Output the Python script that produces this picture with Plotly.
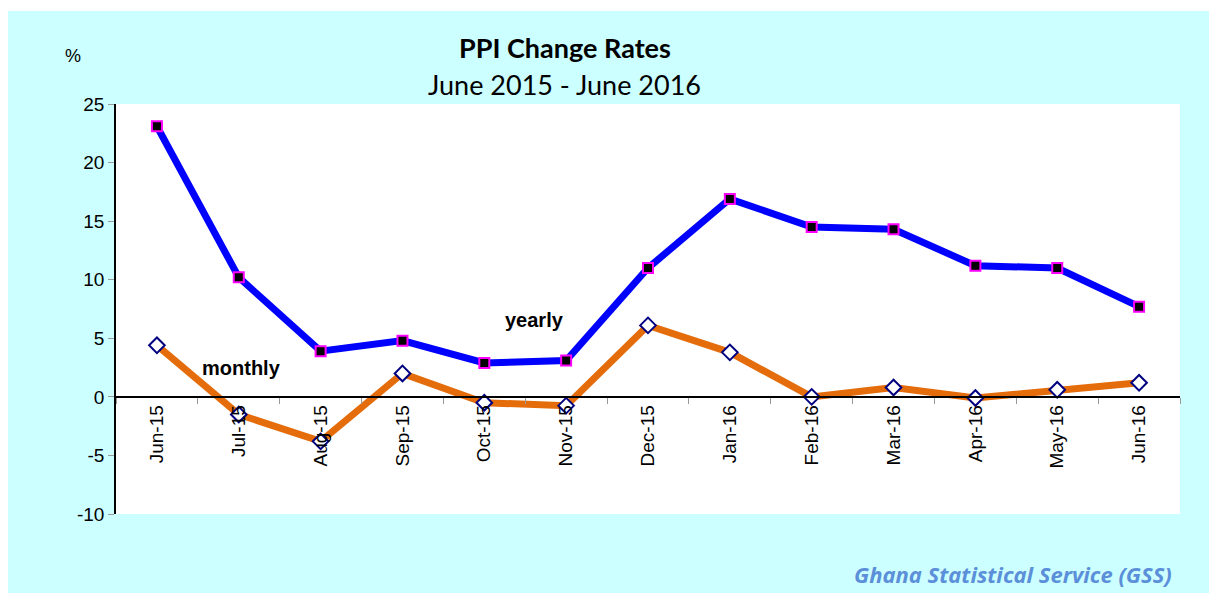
import plotly.graph_objects as go

months = ["Jun-15", "Jul-15", "Aug-15", "Sep-15", "Oct-15", "Nov-15", "Dec-15",
          "Jan-16", "Feb-16", "Mar-16", "Apr-16", "May-16", "Jun-16"]
yearly = [23.1, 10.2, 3.9, 4.8, 2.9, 3.1, 11.0, 16.9, 14.5, 14.3, 11.2, 11.0, 7.7]
monthly = [4.4, -1.5, -3.8, 2.0, -0.5, -0.75, 6.1, 3.8, 0.0, 0.8, -0.1, 0.6, 1.2]
y_ticks = [-10, -5, 0, 5, 10, 15, 20, 25]
y_tick_labels = ["-10", "-5", "0", "5", "10", "15", "20", "25"]

# page body has an 8px margin; figure is sized so that it fills the window
OFF = 8
W, H = 1217 - OFF, 593 - OFF
L, R, T, B = 116 - OFF, 37, 104 - OFF, 79
pw, ph = W - L - R, H - T - B


def px(x):
    return (x - OFF - L) / pw


def py(y):
    return (H - B - (y - OFF)) / ph


fig = go.Figure()
fig.add_trace(go.Scatter(
    x=months, y=yearly, mode="lines+markers", name="yearly",
    line=dict(color="#0000FF", width=7),
    marker=dict(symbol="square", size=10, color="black",
                line=dict(color="#FF00FF", width=2)),
))
fig.add_trace(go.Scatter(
    x=months, y=monthly, mode="lines+markers", name="monthly",
    line=dict(color="#E46C0A", width=7),
    marker=dict(symbol="diamond", size=12, color="white",
                line=dict(color="#000080", width=2)),
))

fig.update_layout(
    width=W, height=H,
    margin=dict(l=L, r=R, t=T, b=B),
    paper_bgcolor="#CCFFFF",
    plot_bgcolor="white",
    showlegend=False,
    font=dict(family="Liberation Sans, Arial", size=19, color="black"),
    xaxis=dict(
        type="category", anchor="free", position=10 / 35,
        range=[-0.5, len(months) - 0.5],
        showline=True, linecolor="black", linewidth=1.5,
        ticks="outside", tickson="boundaries", ticklen=6, tickcolor="#999999",
        tickangle=-90, showgrid=False, zeroline=False,
        tickfont=dict(size=19),
    ),
    yaxis=dict(
        range=[-10, 25], tickvals=y_ticks, ticktext=y_tick_labels,
        showline=True, linecolor="black",
        linewidth=1.5, ticks="outside", ticklen=6, tickcolor="#999999",
        showgrid=False, zeroline=False, tickfont=dict(size=19),
    ),
    shapes=[
        dict(type="rect", xref="paper", yref="paper", x0=px(0), x1=px(1217),
             y0=py(11), y1=py(0), fillcolor="white", line=dict(width=0), layer="below"),
    ],
    annotations=[
        dict(text="<b>PPI Change Rates</b>", xref="paper", yref="paper",
             x=px(565), y=py(47), xanchor="center", yanchor="middle", showarrow=False,
             font=dict(family="Lato", size=27, color="black")),
        dict(text="June 2015 - June 2016", xref="paper", yref="paper",
             x=px(564), y=py(85), xanchor="center", yanchor="middle", showarrow=False,
             font=dict(family="Lato", size=27, color="black")),
        dict(text="%", xref="paper", yref="paper", x=px(73), y=py(56),
             xanchor="center", yanchor="middle", showarrow=False, font=dict(size=18)),
        dict(text="<b>yearly</b>", xref="paper", yref="paper", x=px(534), y=py(320),
             xanchor="center", yanchor="middle", showarrow=False, font=dict(size=20)),
        dict(text="<b>monthly</b>", xref="paper", yref="paper", x=px(241), y=py(368),
             xanchor="center", yanchor="middle", showarrow=False, font=dict(size=20)),
        dict(text="<b><i>Ghana Statistical Service (GSS)</i></b>", xref="paper",
             yref="paper", x=px(1174), y=py(574), xanchor="right", yanchor="middle",
             showarrow=False,
             font=dict(family="Open Sans", size=22, color="#5B8FD9")),
    ],
)

fig.write_html("out.html")
